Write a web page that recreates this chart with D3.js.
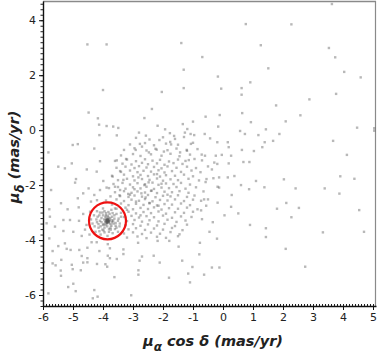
<!DOCTYPE html>
<html><head><meta charset="utf-8">
<script src="https://cdn.jsdelivr.net/npm/d3@7"></script>
<style>body{margin:0;background:#fff}svg{display:block}</style>
</head><body>
<svg id="c" width="377" height="354"></svg>
<script>
// ---------- data ----------
const xTicks = [-6,-5,-4,-3,-2,-1,0,1,2,3,4,5];
const yTicks = [-6,-4,-2,0,2,4];
const xDomain = [-6, 5.1];
const yDomain = [-6.4, 4.7];
const circleCenter = [-3.85, -3.3];

// sparse outer stars
const outerPts = [
[0.76,3.86],[-1.39,3.17],[-0.69,2.66],[-1.31,2.20],[-0.17,1.95],[0.91,1.74],[-2.04,1.39],[-1.31,1.53],
[-0.06,1.51],[0.62,1.53],[0.62,1.29],[-2.37,0.77],[-2.62,0.44],[-0.58,0.49],[-0.11,0.55],[0.64,0.62],
[-4.52,3.12],[-3.88,3.12],[-4.0,1.46],[-4.48,0.64],[-4.17,0.43],
[3.63,4.59],[2.28,3.85],[1.26,3.09],[3.53,2.99],[3.74,2.65],[1.51,2.25],[4.04,2.12],[4.59,1.92],
[3.77,1.32],[2.88,1.12],[1.77,0.90],[2.58,0.54],
[2.09,0.32],[1.43,0.03],[1.88,-0.14],[4.47,0.09],[5.04,0.07],[5.04,-0.02],[1.39,-0.44],[1.67,-0.39],
[1.31,-0.62],[3.67,-0.39],[4.13,-0.90],[3.91,-1.68],[4.38,-1.77],[2.03,-1.79],[1.38,-2.08],[2.42,-2.12],
[3.39,-2.12],[3.88,-2.31],[2.11,-2.65],[1.80,-2.86],[2.53,-2.83],[4.54,-2.91],[2.28,-3.17],[1.43,-3.57],
[3.33,-3.72],[4.70,-3.70],[1.43,-3.89],[2.09,-4.32],[2.74,-4.97],
[-2.83,-4.10],[-2.18,-4.03],[-1.79,-4.03],[-1.48,-4.24],[-0.77,-4.10],[-2.70,-4.60],[-2.78,-4.75],
[-2.31,-4.57],[-2.11,-4.82],[-1.36,-4.75],[-0.79,-4.52],[-2.82,-5.10],[-2.82,-5.26],[-1.16,-5.22],
[-1.02,-4.98],[-0.63,-5.26],[-0.37,-5.0],[-0.12,-5.0],[-1.80,-5.37],[-1.10,-5.54],[-3.06,-6.01],
[-4.38,-4.08],[-4.21,-4.08],[-5.27,-4.12],[-5.49,-4.22],[-5.21,-4.32],[-5.08,-4.36],[-5.68,-4.40],
[-4.79,-4.36],[-4.52,-4.28],[-4.12,-4.40],[-3.84,-4.15],[-3.77,-4.30],[-3.32,-4.34],[-3.32,-4.51],
[-3.84,-4.57],[-3.77,-4.66],[-3.54,-4.69],[-4.71,-4.58],[-4.52,-4.66],[-5.39,-4.72],[-5.97,-4.80],
[-5.68,-4.85],[-5.58,-4.92],[-4.66,-4.82],[-4.52,-4.81],[-5.04,-4.90],[-4.20,-4.87],[-3.92,-4.88],
[-3.86,-4.97],[-5.01,-5.06],[-4.74,-5.10],[-5.41,-5.11],[-5.40,-5.30],[-3.62,-5.35],[-4.99,-5.59],
[-5.16,-5.71],[-4.91,-5.86],[-4.29,-5.82],[-4.34,-6.12],[-4.18,-6.06],[-5.82,-5.94],
[-4.13,0.20],[-3.88,0.15],[-3.66,0.13],[-3.49,0.08],[-3.54,-0.19],[-4.12,-0.18],[-5.01,-0.54],
[-4.84,-0.51],[-5.82,-0.81],[-4.29,-0.67],[-4.10,-1.13],[-3.54,-1.10],[-3.23,-1.05],[-5.04,-1.21],
[-5.49,-1.33],[-4.54,-1.43],[-5.27,-1.39],[-4.21,-1.51],[-3.43,-1.49],[-3.68,-1.69],[-4.90,-1.78],
[-3.99,-1.85],[-3.32,-1.81],[-5.73,-2.18],[-4.93,-1.91],[-4.48,-2.12],[-4.10,-2.18],[-3.88,-2.09],
[-3.60,-2.06],[-3.43,-2.18],[-4.66,-2.30],[-4.29,-2.36],[-3.43,-2.40],[-3.16,-2.32],[-5.40,-2.66],
[-4.84,-2.48],[-5.79,-2.88],[-5.18,-2.88],[-4.81,-2.81],[-5.32,-3.27],[-5.77,-3.15],[-5.88,-3.39],
[-5.60,-3.51],[-5.10,-3.27],[-4.99,-3.70],[-5.32,-3.67],[-4.71,-3.85],[-4.66,-3.05],[-4.43,-2.97],
[-5.79,-3.94],[-4.55,-3.45],[-4.6,-3.62],[-4.45,-3.8],[-4.8,-3.3],[-4.4,-2.6],[-4.2,-2.55],
[-2.18,0.16],[-1.34,0.22],[-1.19,0.04],[-1.0,0.31],[-1.08,-0.14],[-0.16,0.13],[-0.61,-0.14],[-0.43,-0.30],
[-2.80,-0.09],[-2.57,-0.20],[-1.93,0.03],[-1.77,-0.11],[-1.63,-0.21],[-1.27,-0.09],[-0.96,-0.18],
[0.93,0.29],[0.57,-0.03],[0.73,-0.14],[1.18,-0.18],[-0.19,-0.44],[0.16,-0.44],[0.19,-0.62],[-1.07,-0.50],
[-2.77,-0.50],[-2.70,-0.60],[-2.12,-0.36],[-1.76,-0.43],[-1.73,-0.52],[-2.91,-0.72],[-2.47,-0.81],
[-2.21,-0.71],[-1.97,-0.78],[-1.43,-0.81],[-1.21,-0.72],[-1.14,-1.09],[-0.71,-0.89],[-0.24,-0.93],
[-0.04,-0.90],[0.27,-0.93],[0.63,-0.72],[0.68,-1.16],[0.88,-1.16],[1.03,-0.76],[-0.19,-1.23],
[-0.29,-1.18],[0.19,-1.21],[-0.37,-1.43],[-0.58,-1.89],[-0.32,-1.75],[-0.13,-1.72],[0.16,-1.72],
[0.38,-1.67],[0.87,-2.15],[1.10,-1.85],[-0.18,-2.06],[-0.13,-2.09],[-0.73,-2.57],[-0.63,-2.52],
[-0.50,-2.52],[-0.56,-2.75],[0.29,-2.36],[0.27,-2.79],[-0.18,-2.64],[-0.73,-2.92],[0.51,-3.03],
[-0.70,-3.24],[-0.34,-3.35],[0.05,-3.1],[-0.45,-3.7],[0.6,-2.0],[0.9,-3.45],[-0.2,-3.95]
];

// main cloud
const cloudPts = [
[-2.9,-0.28],[-2.45,-0.34],[-2.0,-0.26],[-1.6,-0.32],[-1.3,-0.25],
[-3.1,-0.52],[-2.6,-0.47],[-2.3,-0.55],[-1.9,-0.49],[-1.5,-0.53],[-1.0,-0.46],
[-3.3,-0.72],[-2.95,-0.66],[-2.55,-0.74],[-2.25,-0.68],[-1.85,-0.73],[-1.55,-0.67],[-1.2,-0.75],[-0.85,-0.69],
[-3.4,-0.92],[-3.0,-0.87],[-2.75,-0.94],[-2.4,-0.88],[-2.05,-0.93],[-1.75,-0.86],[-1.45,-0.95],[-1.1,-0.89],[-0.6,-0.93],
[-3.6,-1.12],[-3.2,-1.07],[-2.9,-1.13],[-2.6,-1.06],[-2.35,-1.11],[-2.1,-1.08],[-1.8,-1.14],[-1.5,-1.07],[-1.25,-1.12],[-0.95,-1.05],[-0.7,-1.1],
[-3.35,-1.22],[-3.05,-1.25],[-2.7,-1.19],[-2.5,-1.24],[-2.2,-1.21],[-1.95,-1.26],[-1.65,-1.2],[-1.35,-1.23],
[-3.55,-1.37],[-3.25,-1.33],[-2.95,-1.38],[-2.8,-1.31],[-2.55,-1.36],[-2.3,-1.34],[-2.05,-1.39],[-1.85,-1.32],[-1.55,-1.37],[-1.2,-1.33],[-0.9,-1.38],[-0.5,-1.32],
[-3.4,-1.52],[-3.1,-1.47],[-2.85,-1.53],[-2.65,-1.48],[-2.4,-1.51],[-2.15,-1.46],[-1.95,-1.54],[-1.7,-1.49],[-1.4,-1.52],[-1.05,-1.47],[-0.75,-1.53],
[-3.7,-1.66],[-3.3,-1.62],[-3.0,-1.68],[-2.75,-1.63],[-2.5,-1.67],[-2.3,-1.61],[-2.1,-1.69],[-1.9,-1.64],[-1.6,-1.66],[-1.3,-1.62],[-1.0,-1.68],
[-3.5,-1.82],[-3.2,-1.77],[-2.95,-1.83],[-2.7,-1.78],[-2.45,-1.81],[-2.2,-1.76],[-2.0,-1.84],[-1.75,-1.79],[-1.5,-1.82],[-1.15,-1.77],[-0.8,-1.83],[-0.55,-1.78],
[-3.65,-1.96],[-3.35,-1.92],[-3.1,-1.98],[-2.85,-1.93],[-2.6,-1.97],[-2.35,-1.91],[-2.15,-1.99],[-1.9,-1.94],[-1.65,-1.96],[-1.4,-1.92],[-1.1,-1.98],
[-3.8,-2.11],[-3.5,-2.07],[-3.25,-2.13],[-3.0,-2.08],[-2.75,-2.12],[-2.55,-2.06],[-2.3,-2.14],[-2.05,-2.09],[-1.8,-2.11],[-1.55,-2.07],[-1.25,-2.13],[-0.9,-2.08],
[-3.6,-2.26],[-3.3,-2.22],[-3.05,-2.28],[-2.85,-2.23],[-2.6,-2.27],[-2.4,-2.21],[-2.2,-2.29],[-1.95,-2.24],[-1.7,-2.26],[-1.45,-2.22],[-1.15,-2.28],[-0.65,-2.23],
[-3.75,-2.41],[-3.45,-2.37],[-3.15,-2.43],[-2.95,-2.38],[-2.7,-2.42],[-2.5,-2.36],[-2.25,-2.44],[-2.0,-2.39],[-1.75,-2.41],[-1.5,-2.37],[-1.2,-2.43],[-0.95,-2.38],
[-3.9,-2.56],[-3.55,-2.52],[-3.3,-2.58],[-3.05,-2.53],[-2.8,-2.57],[-2.6,-2.51],[-2.35,-2.59],[-2.1,-2.54],[-1.85,-2.56],[-1.6,-2.52],[-1.3,-2.58],[-1.0,-2.53],
[-3.7,-2.71],[-3.4,-2.67],[-3.15,-2.73],[-2.9,-2.68],[-2.65,-2.72],[-2.45,-2.66],[-2.2,-2.74],[-1.95,-2.69],[-1.7,-2.71],[-1.4,-2.67],[-1.1,-2.73],
[-3.55,-2.86],[-3.25,-2.82],[-3.0,-2.88],[-2.75,-2.83],[-2.5,-2.87],[-2.3,-2.81],[-2.05,-2.89],[-1.8,-2.84],[-1.5,-2.86],[-1.2,-2.82],[-0.85,-2.88],
[-3.4,-3.01],[-3.15,-2.97],[-2.9,-3.03],[-2.65,-2.98],[-2.4,-3.02],[-2.15,-2.96],[-1.9,-3.04],[-1.6,-2.99],[-1.3,-3.01],[-1.0,-2.97],
[-3.3,-3.16],[-3.05,-3.12],[-2.8,-3.18],[-2.55,-3.13],[-2.3,-3.17],[-2.0,-3.11],[-1.7,-3.19],[-1.4,-3.14],[-1.05,-3.16],
[-3.2,-3.31],[-2.95,-3.27],[-2.7,-3.33],[-2.45,-3.28],[-2.15,-3.32],[-1.85,-3.26],[-1.55,-3.34],[-1.25,-3.29],
[-3.25,-3.46],[-3.0,-3.42],[-2.75,-3.48],[-2.5,-3.43],[-2.2,-3.47],[-1.95,-3.41],[-1.6,-3.49],[-1.2,-3.44],
[-3.15,-3.61],[-2.9,-3.57],[-2.6,-3.63],[-2.3,-3.58],[-2.0,-3.62],[-1.7,-3.56],[-1.35,-3.64],
[-3.3,-3.76],[-3.0,-3.72],[-2.7,-3.78],[-2.4,-3.73],[-2.1,-3.77],[-1.75,-3.71],[-1.45,-3.79],
[-3.2,-3.91],[-2.85,-3.87],[-2.55,-3.93],[-2.2,-3.88],[-1.9,-3.92],[-1.5,-3.86],
[-2.62,-2.0],[-2.48,-1.9],[-2.72,-2.3],[-2.38,-2.2],[-2.9,-2.6],[-2.58,-2.45],[-2.2,-1.6],[-2.82,-1.72],
[-3.1,-2.35],[-2.45,-2.65],[-2.05,-1.95],[-2.95,-2.15],[-1.85,-2.35],[-2.15,-2.75],[-3.2,-2.9],[-2.75,-3.1]
];

// cluster inside the red circle
const clusterPts = [
[-3.85,-3.3],[-3.83,-3.28],[-3.87,-3.32],[-3.82,-3.33],[-3.88,-3.27],[-3.8,-3.3],[-3.9,-3.31],
[-3.85,-3.24],[-3.86,-3.36],[-3.78,-3.26],[-3.93,-3.35],[-3.84,-3.3],[-3.81,-3.38],[-3.9,-3.22],
[-4.3,-3.1],[-4.2,-3.35],[-4.15,-3.55],[-4.1,-3.0],[-4.05,-3.2],[-4.0,-3.45],[-3.98,-3.65],[-3.95,-2.95],
[-3.9,-3.1],[-3.7,-3.15],[-3.65,-3.4],[-3.6,-3.6],[-3.55,-3.05],[-3.5,-3.3],[-3.45,-3.5],[-3.72,-2.9],
[-3.75,-3.55],[-3.68,-3.75],[-4.25,-3.7],[-4.35,-3.4],[-4.08,-3.8],[-3.85,-3.85],[-3.6,-2.85],[-4.0,-2.85],
[-4.2,-2.95],[-3.4,-3.15],[-3.95,-3.55],[-3.75,-3.42],[-4.1,-3.3],[-3.62,-3.22],[-3.92,-3.15],[-3.58,-3.48],
[-4.18,-3.15],[-3.8,-3.7],[-3.5,-3.7],[-4.4,-3.25],[-3.78,-3.05],[-4.02,-3.62],[-3.7,-3.35],[-4.0,-3.1],
[-3.88,-3.4],[-3.76,-3.2],[-3.96,-3.25],[-3.72,-3.48],[-3.98,-3.42],[-3.82,-3.18],[-3.92,-3.45],[-3.7,-3.28],
[-4.05,-3.35],[-3.66,-3.3],[-3.86,-3.5],[-3.84,-3.12],[-4.08,-3.5],[-3.62,-3.1],[-4.12,-3.1],[-3.58,-3.38],
[-3.8,-3.6],[-3.9,-3.02],[-4.22,-3.25],[-3.48,-3.22],[-3.74,-3.62],[-4.15,-3.42],[-3.55,-3.55],[-3.95,-3.72],
[-4.28,-3.5],[-3.44,-3.4],[-3.68,-3.02],[-4.02,-3.0],[-3.82,-2.98],[-4.12,-3.68],[-3.85,-3.33],[-3.83,-3.26],
[-3.8,-3.34],[-3.88,-3.35],[-3.86,-3.27],[-3.79,-3.31],[-3.91,-3.28],[-3.84,-3.22],[-3.87,-3.38]
];

const allPts = outerPts.concat(cloudPts, clusterPts);

// ---------- chart ----------
const svg = d3.select("#c");
const L = 43, R = 376, T = 1, B = 306;
const x = d3.scaleLinear().domain(xDomain).range([L, R]);
const y = d3.scaleLinear().domain(yDomain).range([B, T]);

svg.append("defs").append("clipPath").attr("id","clip")
  .append("rect").attr("x",L).attr("y",T).attr("width",R-L).attr("height",B-T);

// frame (top/right)
svg.append("line").attr("x1",L).attr("x2",R).attr("y1",T+0.5).attr("y2",T+0.5)
  .attr("stroke","#8a8a8a").attr("stroke-width",1.6);
svg.append("line").attr("x1",R-0.5).attr("x2",R-0.5).attr("y1",T).attr("y2",B)
  .attr("stroke","#8a8a8a").attr("stroke-width",1.2);

// points
svg.append("g").attr("clip-path","url(#clip)")
  .selectAll("rect").data(allPts).join("rect")
  .attr("x", d => x(d[0]) - 1.2).attr("y", d => y(d[1]) - 1.2)
  .attr("width", 2.4).attr("height", 2.4)
  .attr("fill", "#555").attr("fill-opacity", 0.42);

// red circle
svg.append("circle").attr("cx", x(circleCenter[0])).attr("cy", y(circleCenter[1]))
  .attr("r", 18.5).attr("fill","none").attr("stroke","#ee1111").attr("stroke-width",2.2);

// minor ticks
const xMinor = d3.range(-60, 51).map(v => v/10);
const yMinor = d3.range(-32, 24).map(v => v/5);
svg.append("g").attr("transform",`translate(0,${B})`)
  .call(d3.axisBottom(x).tickValues(xMinor).tickSize(-2).tickFormat(""))
  .call(g => g.select(".domain").remove())
  .selectAll("line").attr("stroke","#222");
svg.append("g").attr("transform",`translate(${L},0)`)
  .call(d3.axisLeft(y).tickValues(yMinor).tickSize(2.5).tickFormat(""))
  .call(g => g.select(".domain").remove())
  .selectAll("line").attr("stroke","#222");

// major axes
const xAxis = svg.append("g").attr("transform",`translate(0,${B})`)
  .call(d3.axisBottom(x).tickValues(xTicks).tickSize(4).tickSizeOuter(0).tickPadding(3).tickFormat(d3.format("d")));
const yAxis = svg.append("g").attr("transform",`translate(${L},0)`)
  .call(d3.axisLeft(y).tickValues(yTicks).tickSize(4).tickSizeOuter(0).tickPadding(3).tickFormat(d3.format("d")));
[xAxis, yAxis].forEach(g => {
  g.select(".domain").attr("stroke","#111").attr("stroke-width",1.4);
  g.selectAll("text").attr("font-family","DejaVu Sans, sans-serif").attr("font-size",11).attr("fill","#222");
  g.selectAll("line").attr("stroke","#111");
});
xAxis.selectAll("text").text(d => d < 0 ? "-" + Math.abs(d) : d);
yAxis.selectAll("text").text(d => d < 0 ? "-" + Math.abs(d) : d);

// axis titles
const xt = svg.append("text").attr("x", 213).attr("y", 346).attr("text-anchor","middle")
  .attr("font-family","DejaVu Sans, sans-serif").attr("font-size",14.5)
  .attr("font-weight","bold").attr("font-style","italic").attr("fill","#222");
xt.append("tspan").text("μ");
xt.append("tspan").attr("dy",5).attr("font-size",12).text("α");
xt.append("tspan").attr("dy",-5).text(" cos δ (mas/yr)");

const yt = svg.append("text").attr("transform","translate(19,157) rotate(-90)").attr("text-anchor","middle")
  .attr("font-family","DejaVu Sans, sans-serif").attr("font-size",14.5)
  .attr("font-weight","bold").attr("font-style","italic").attr("fill","#222");
yt.append("tspan").text("μ");
yt.append("tspan").attr("dy",5).attr("font-size",12).text("δ");
yt.append("tspan").attr("dy",-5).text(" (mas/yr)");
</script>
</body></html>
